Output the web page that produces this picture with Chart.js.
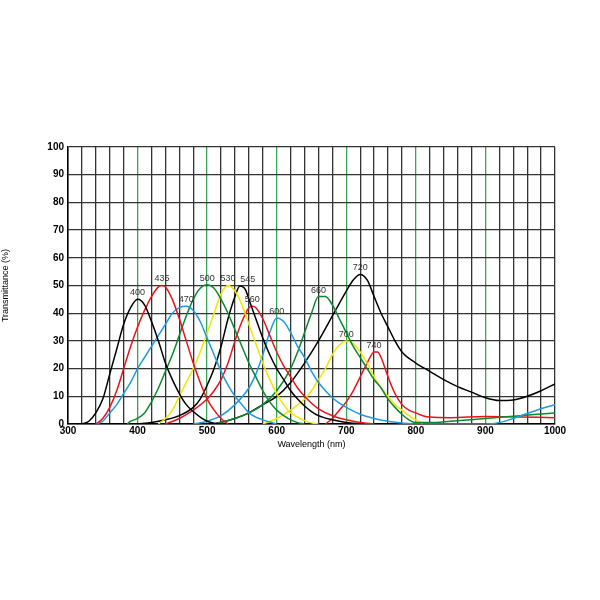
<!DOCTYPE html>
<html><head><meta charset="utf-8">
<script src="https://cdn.jsdelivr.net/npm/chart.js"></script>
<style>html,body{margin:0;background:#fff}#w{width:600px;height:600px}</style>
</head><body><div id="w"><canvas id="c"></canvas></div>
<script>
const xTickLabels=[300,400,500,600,700,800,900,1000];
const s400=[[320,0],[330,1],[340,4],[350,9],[360,18],[370,27],[380,36],[390,42],[400,45],[410,43],[420,37],[430,30],[440,22],[450,16],[460,11],[470,7],[480,4.5],[490,2.5],[500,1],[510,0.3],[520,0]];
const s435=[[340,0],[350,2],[360,6],[370,12],[380,20],[390,28],[400,35],[410,41],[420,46],[430,49.5],[435,50],[440,49.5],[450,45],[460,38],[470,30],[480,22],[490,15],[500,9],[510,5],[520,2],[530,0]];
const s470=[[340,0],[350,1],[360,4],[370,7],[380,11],[390,15],[400,20],[410,24],[420,28],[430,32],[440,36],[450,40],[460,42],[470,42.5],[480,41],[490,37],[500,31],[510,25],[520,19],[530,14],[540,10],[550,7],[560,4],[570,2.5],[580,1.5],[590,0.7],[600,0]];
const s500=[[385,0],[390,1],[400,2],[410,4],[420,8],[430,13],[440,19],[450,25],[460,32],[470,39],[480,45],[490,49],[500,50.3],[510,49],[520,45],[530,40],[540,34],[550,28],[560,22],[570,17],[580,12],[590,8],[600,5],[610,3],[620,1.5],[630,0.5],[640,0]];
const s530=[[430,0],[440,2],[450,5],[460,10],[470,15],[480,20],[490,26],[500,33],[510,40],[520,47],[530,50],[540,48],[550,43],[560,36],[570,29],[580,22],[590,16],[600,11],[610,7],[620,4],[630,2.5],[640,1.2],[650,0.4],[660,0]];
const s545=[[400,0],[420,0.5],[440,1.5],[460,3],[480,6],[490,9],[500,14],[510,20],[520,28],[530,38],[540,46],[547,49.8],[555,48.5],[560,45],[570,38],[580,31],[590,25],[600,20],[610,16],[620,12],[630,9],[640,6.5],[650,4.5],[660,3],[680,1.5],[700,0.5],[720,0]];
const s560=[[440,0],[460,2],[480,5],[500,9],[510,12],[520,16],[530,22],[540,30],[550,37],[560,42],[565,42.5],[570,42],[580,38],[590,32],[600,26],[610,21],[620,17],[630,13],[640,10],[650,7.5],[660,5.5],[680,3],[700,1.5],[720,0.5],[740,0]];
const s600=[[480,0],[500,1],[520,3],[540,7],[560,13],[570,18],[580,25],[590,33],[600,38.3],[610,37],[620,33],[630,28],[640,24],[650,19],[660,15],[670,12],[680,9.5],[690,7.5],[700,6],[720,3.5],[740,2],[760,1],[780,0.4],[800,0],[900,0],[920,0.5],[940,2],[960,3.8],[980,5.5],[1000,7]];
const s660=[[510,0],[540,2],[560,4],[580,7],[600,12],[620,20],[630,26],[640,33],[650,40],[660,46],[670,46],[680,43],[690,38],[700,33],[710,28],[720,24],[730,20],[740,16],[750,13],[760,9],[770,6],[780,3.5],[790,1.5],[800,0.5],[820,0.5],[850,1],[900,2],[950,3],[1000,4]];
const s700=[[580,0],[600,2],[620,5],[640,9],[650,12],[660,16],[670,20],[680,25],[690,28.5],[700,30],[710,29],[720,26],[730,22],[740,17],[750,13],[760,10],[770,7],[780,5],[790,3],[800,1.5],[810,0]];
const s740=[[670,0],[680,2],[690,5],[700,8],[710,12],[720,17],[730,22],[740,26],[745,26],[750,24],[760,17],[770,11],[780,7],[790,5],[800,4],[810,3],[820,2.5],[850,2.3],[900,2.7],[950,2.5],[1000,2.3]];
const s720=[[510,0],[540,2],[560,4],[580,7],[600,10],[620,15],[640,22],[660,30],[680,39],[700,48],[710,52],[720,54],[730,52],[740,46],[750,40],[760,35],[770,30],[780,26],[800,22],[820,19],[840,16],[860,13.5],[880,11.5],[900,9.5],[920,8.5],[940,8.7],[960,10],[980,12],[1000,14.5]];
const curves=[['400',s400,'#000'],['435',s435,'#e8141c'],['470',s470,'#1e9be0'],['500',s500,'#0a8a2e'],['530',s530,'#f2e600'],['545',s545,'#000'],['560',s560,'#e8141c'],['600',s600,'#1e9be0'],['660',s660,'#0a8a2e'],['700',s700,'#f2e600'],['740',s740,'#e8141c'],['720',s720,'#000']];
const labelPlugin={id:'pk',afterDatasetsDraw(ch){const c=ch.ctx,xs=ch.scales.x,ys=ch.scales.y;c.save();c.font='9px "Liberation Sans"';c.fillStyle='#333';c.textAlign='center';c.textBaseline='bottom';
ch.data.datasets.forEach(d=>{let m=d.data.reduce((a,b)=>b.y>a.y?b:a);let dx=d.label==='545'?8:0;c.fillText(d.label,xs.getPixelForValue(m.x)+dx,ys.getPixelForValue(m.y)-2);});c.restore();}};
new Chart(document.getElementById('c'),{type:'line',
data:{datasets:curves.map(([l,a,col])=>({label:l,data:a.map(p=>({x:p[0],y:p[1]})),borderColor:col,borderWidth:1.5,pointRadius:0,cubicInterpolationMode:'monotone',fill:false}))},
options:{responsive:true,maintainAspectRatio:false,animation:false,layout:{padding:{left:0,top:147,right:45,bottom:150}},
plugins:{legend:{display:false},tooltip:{enabled:false}},
scales:{x:{type:'linear',min:300,max:1000,afterBuildTicks:s=>{const t=[];for(let v=300;v<=1000;v+=20)t.push({value:v});s.ticks=t;},
ticks:{autoSkip:false,maxRotation:0,padding:1,color:'#000',font:{size:10,weight:'bold',family:'Liberation Sans'},callback:v=>xTickLabels.includes(v)?v:''},
grid:{drawTicks:false,lineWidth:1.3,color:c=>(c.tick&&c.tick.value%100===0&&c.tick.value>300&&c.tick.value<1000)?'#3aa655':'#333'},border:{color:'#000',width:1.5},
title:{display:true,text:'Wavelength (nm)',color:'#000',font:{size:9,family:'Liberation Sans'},padding:0},afterFit:s=>{s.height=26;}},
y:{min:0,max:100,ticks:{stepSize:10,padding:4,color:'#000',font:{size:10,weight:'bold',family:'Liberation Sans'}},grid:{drawTicks:false,lineWidth:1.3,color:'#333'},border:{color:'#000',width:1.5},
title:{display:true,text:'Transmittance (%)',color:'#000',font:{size:9,family:'Liberation Sans'},padding:0},afterFit:s=>{s.width=68;}}}},
plugins:[labelPlugin]});
</script></body></html>
